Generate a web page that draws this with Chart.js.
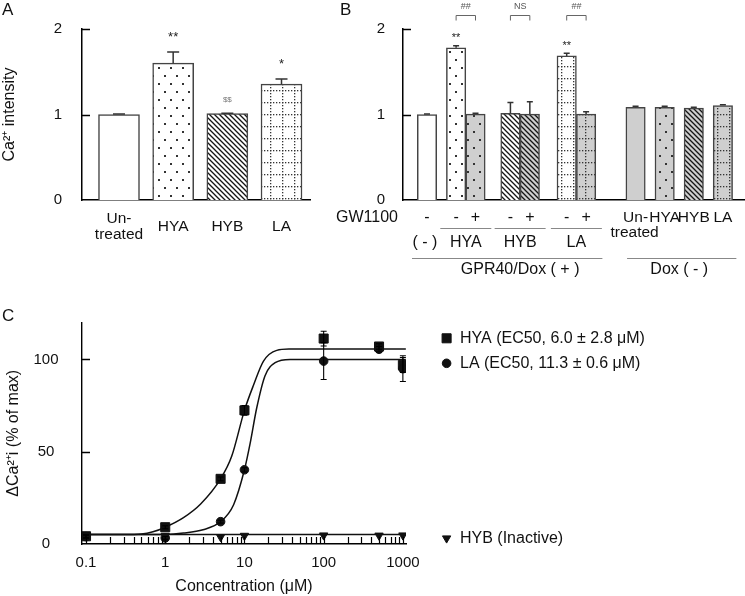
<!DOCTYPE html>
<html>
<head>
<meta charset="utf-8">
<script src="https://cdn.jsdelivr.net/npm/chart.js@4.4.0/dist/chart.umd.min.js"></script>
<style>
  html, body { margin: 0; padding: 0; background: #fff; }
  #fig { position: relative; width: 745px; height: 596px; overflow: hidden; font-family: 'Liberation Sans', Arial, sans-serif; }
  .box { position: absolute; }
  .tag { position: absolute; font-size: 17px; line-height: 1; color: #111; }
</style>
</head>
<body>
<div id="fig">
  <div class="box" style="left:0;top:0;width:315px;height:290px"><canvas id="chartA"></canvas></div>
  <div class="box" style="left:315px;top:0;width:430px;height:290px"><canvas id="chartB"></canvas></div>
  <div class="box" style="left:0;top:290px;width:745px;height:306px"><canvas id="chartC"></canvas></div>
  <div class="tag" style="left:2px;top:1px">A</div>
  <div class="tag" style="left:340px;top:1px">B</div>
  <div class="tag" style="left:2px;top:307px">C</div>
</div>
<script>
// ---- Panel A: Ca2+ intensity
const labelsA = [['Un-', 'treated'], 'HYA', 'HYB', 'LA'];
const valuesA = [1.0, 1.6, 1.01, 1.355];
const errorsA = [0.006, 0.13, 0.006, 0.06];
const marksA = ['', '**', '$$', '*'];
const yTicksA = [0, 1, 2];

// ---- Panel B: GPR40/Dox(+) vs Dox(-)
const gwSignB = ['-', '-', '+', '-', '+', '-', '+'];
const groupLabelsB = ['( - )', 'HYA', 'HYB', 'LA'];
const doxMinusLabelsB = [['Un-', 'treated'], 'HYA', 'HYB', 'LA'];
const valuesB = [1.0, 1.78, 1.005, 1.015, 1.005, 1.685, 1.005, 1.085, 1.085, 1.075, 1.105];
const errorsB = [0.006, 0.025, 0.01, 0.125, 0.145, 0.03, 0.028, 0.012, 0.012, 0.01, 0.01];
const marksB = ['', '**', '', '', '', '**', '', '', '', '', ''];
const pairSigB = ['##', 'NS', '##'];
const yTicksB = [0, 1, 2];

// ---- Panel C: dose response
const concC = [0.1, 1, 5, 10, 100, 500, 1000];
const hyaC = [4.2, 9.1, 35.3, 72.4, 111.3, 107, 97];
const hyaErrC = [0.8, 0.8, 1, 2.6, 4, 1.5, 4];
const laC = [4, 3.3, 12.1, 40.2, 99.1, 105.5, 95];
const laErrC = [0.8, 0.8, 0.8, 1.2, 10, 1.5, 7];
const hybC = [4.5, 4.5, 3.8, 4.5, 4.7, 4.6, 4.7];
const fitHyaX = [0.09, 0.3, 0.5, 0.7, 1, 1.7, 2.8, 5, 6.9, 10, 13, 17.4, 25.6, 37.7, 100, 1090];
const fitHyaY = [5.1, 5.1, 5.4, 6.6, 9.1, 14.3, 21.7, 35.3, 47.5, 72.4, 86, 99.1, 104.9, 105.6, 105.7, 105.7];
const fitLaX = [0.09, 1, 1.7, 3, 5, 7.3, 10, 11.8, 14.3, 18.2, 24.4, 37.7, 100, 1090];
const fitLaY = [5.1, 5.2, 5.9, 7.7, 12.1, 21.3, 40.2, 54.5, 73.8, 91.2, 98.2, 100, 100, 100];
const fitHybX = [0.09, 1090];
const fitHybY = [5.1, 5.1];
const yTicksC = [0, 50, 100];
const xTickLabelsC = ['0.1', '1', '10', '100', '1000'];
const legendC = ['HYA (EC50, 6.0 \u00b1 2.8 \u03bcM)', 'LA (EC50, 11.3 \u00b1 0.6 \u03bcM)', 'HYB (Inactive)'];

Chart.defaults.font.family = "'Liberation Sans', Arial, sans-serif";
Chart.defaults.color = '#111';
Chart.defaults.animation = false;
Chart.defaults.plugins.legend.display = false;
Chart.defaults.plugins.tooltip.enabled = false;

const WHITE = '#ffffff';
const GREY = '#cfcfcf';

function makePattern(kind, base) {
    const c = document.createElement('canvas');
    const g = c.getContext('2d');
    if (kind === 'dots') {
        c.width = 12; c.height = 16;
        g.fillStyle = base; g.fillRect(0, 0, 12, 16);
        g.fillStyle = '#333';
        g.fillRect(2, 3, 2, 2);
        g.fillRect(8, 11, 2, 2);
    } else if (kind === 'hatch') {
        c.width = 5; c.height = 5;
        g.fillStyle = base; g.fillRect(0, 0, 5, 5);
        g.strokeStyle = '#151515'; g.lineWidth = 1.3;
        g.beginPath();
        g.moveTo(-1, -1); g.lineTo(6, 6);
        g.moveTo(-1, 4); g.lineTo(1, 6);
        g.moveTo(4, -1); g.lineTo(6, 1);
        g.stroke();
    } else if (kind === 'grid') {
        c.width = 12; c.height = 12;
        g.fillStyle = base; g.fillRect(0, 0, 12, 12);
        g.fillStyle = '#333';
        for (let k = 0; k < 12; k += 3) {
            g.fillRect(6, k, 1.3, 1.3);
            g.fillRect(k, 6, 1.3, 1.3);
        }
    } else {
        return base;
    }
    return g.createPattern(c, 'repeat');
}

// draws y tick marks pointing into the plot
function innerYTicks(chart, values, len) {
    const { ctx, chartArea } = chart;
    const y = chart.scales.y;
    ctx.save();
    ctx.strokeStyle = '#000';
    ctx.lineWidth = 1.5;
    values.forEach(v => {
        if (v === y.min) return;
        const py = Math.round(y.getPixelForValue(v)) + 0.5;
        ctx.beginPath();
        ctx.moveTo(chartArea.left, py);
        ctx.lineTo(chartArea.left + len, py);
        ctx.stroke();
    });
    ctx.restore();
}

function barErrors(chart, values, errors, cap) {
    const { ctx } = chart;
    const y = chart.scales.y;
    const meta = chart.getDatasetMeta(0);
    ctx.save();
    ctx.strokeStyle = '#333';
    ctx.lineWidth = 1.5;
    meta.data.forEach((bar, i) => {
        const top = y.getPixelForValue(values[i] + errors[i]);
        ctx.beginPath();
        ctx.moveTo(bar.x, bar.y);
        ctx.lineTo(bar.x, top);
        ctx.moveTo(bar.x - cap / 2, top);
        ctx.lineTo(bar.x + cap / 2, top);
        ctx.stroke();
    });
    ctx.restore();
}

function barMarks(chart, values, errors, marks, lift, fontFor) {
    const { ctx } = chart;
    const y = chart.scales.y;
    const meta = chart.getDatasetMeta(0);
    ctx.save();
    ctx.textAlign = 'center';
    ctx.textBaseline = 'alphabetic';
    meta.data.forEach((bar, i) => {
        if (!marks[i]) return;
        const f = fontFor(marks[i]);
        ctx.font = f.font;
        ctx.fillStyle = f.color;
        ctx.fillText(marks[i], bar.x, y.getPixelForValue(values[i] + errors[i]) - lift);
    });
    ctx.restore();
}

// ---------------- Panel A ----------------
const fillA = ['plain', 'dots', 'hatch', 'grid'];

new Chart(document.getElementById('chartA'), {
    type: 'bar',
    data: {
        datasets: [{
            data: valuesA.map((v, i) => ({ x: i, y: v })),
            backgroundColor: fillA.map(k => makePattern(k, WHITE)),
            borderColor: '#444',
            borderWidth: 1.5,
            barThickness: 41
        }]
    },
    options: {
        responsive: true,
        maintainAspectRatio: false,
        layout: { padding: { left: 0, right: 5, top: 29, bottom: 0 } },
        scales: {
            x: {
                type: 'linear',
                offset: false,
                min: -0.683,
                max: 3.526,
                afterBuildTicks: s => { s.ticks = labelsA.map((l, i) => ({ value: i })); },
                afterFit: s => { s.height = 90; },
                grid: { display: false, drawTicks: false },
                border: { display: true, color: '#000', width: 1.5 },
                ticks: {
                    autoSkip: false, maxRotation: 0, padding: 19, crossAlign: 'center',
                    font: { size: 15.5, lineHeight: 1.0 },
                    callback: v => labelsA[v]
                }
            },
            y: {
                min: 0,
                max: 2,
                afterBuildTicks: s => { s.ticks = yTicksA.map(v => ({ value: v })); },
                afterFit: s => { s.width = 82; },
                grid: { display: false, drawTicks: false },
                border: { display: true, color: '#000', width: 1.5 },
                ticks: { padding: 20, font: { size: 15 } },
                title: {
                    display: true,
                    text: 'Ca\u00b2\u207a intensity',
                    font: { size: 16 },
                    padding: { top: 0, bottom: 0 }
                }
            }
        }
    },
    plugins: [{
        id: 'extrasA',
        afterDatasetsDraw(chart) {
            barErrors(chart, valuesA, errorsA, 12);
            barMarks(chart, valuesA, errorsA, marksA, 11, m => m === '$$'
                ? { font: '8px "Liberation Sans", Arial', color: '#777' }
                : { font: '13px "Liberation Sans", Arial', color: '#222' });
            innerYTicks(chart, yTicksA, 8);
        }
    }]
});

// ---------------- Panel B ----------------
// horizontal slot of every bar, in bar widths
const slotB = [0, 1.5, 2.5, 4.3, 5.3, 7.2, 8.2, 10.75, 12.25, 13.75, 15.25];
const fillB = ['plain', 'dots', 'dots', 'hatch', 'hatch', 'grid', 'grid', 'plain', 'dots', 'hatch', 'grid'];
const toneB = [WHITE, WHITE, GREY, WHITE, GREY, WHITE, GREY, GREY, GREY, GREY, GREY];
const pairsB = [[1, 2], [3, 4], [5, 6]];

new Chart(document.getElementById('chartB'), {
    type: 'bar',
    data: {
        datasets: [{
            data: valuesB.map((v, i) => ({ x: slotB[i], y: v })),
            backgroundColor: fillB.map((k, i) => makePattern(k, toneB[i])),
            borderColor: '#444',
            borderWidth: 1.5,
            barThickness: 19.4
        }]
    },
    options: {
        responsive: true,
        maintainAspectRatio: false,
        layout: { padding: { left: 0, right: 0, top: 29, bottom: 0 } },
        scales: {
            x: {
                type: 'linear',
                offset: false,
                min: -1.237,
                max: 16.39,
                afterFit: s => { s.height = 90; },
                grid: { display: false, drawTicks: false },
                border: { display: true, color: '#000', width: 1.5 },
                ticks: { display: false }
            },
            y: {
                min: 0,
                max: 2,
                afterBuildTicks: s => { s.ticks = yTicksB.map(v => ({ value: v })); },
                afterFit: s => { s.width = 88; },
                grid: { display: false, drawTicks: false },
                border: { display: true, color: '#000', width: 1.5 },
                ticks: { padding: 18, font: { size: 15 } }
            }
        }
    },
    plugins: [{
        id: 'extrasB',
        afterDatasetsDraw(chart) {
            const { ctx, chartArea } = chart;
            const bars = chart.getDatasetMeta(0).data;
            const px = i => bars[i].x;
            const mid = p => (px(p[0]) + px(p[1])) / 2;

            barErrors(chart, valuesB, errorsB, 6);
            barMarks(chart, valuesB, errorsB, marksB, 4.3,
                () => ({ font: '11px "Liberation Sans", Arial', color: '#222' }));
            innerYTicks(chart, yTicksB, 8);

            ctx.save();
            // significance brackets
            ctx.strokeStyle = '#666';
            ctx.lineWidth = 1;
            ctx.fillStyle = '#555';
            ctx.font = '9px "Liberation Sans", Arial';
            ctx.textAlign = 'center';
            ctx.textBaseline = 'middle';
            pairsB.forEach((p, k) => {
                ctx.beginPath();
                ctx.moveTo(px(p[0]), 20.5);
                ctx.lineTo(px(p[0]), 15.5);
                ctx.lineTo(px(p[1]), 15.5);
                ctx.lineTo(px(p[1]), 20.5);
                ctx.stroke();
                ctx.fillText(pairSigB[k], mid(p), 7);
            });

            // treatment rows under the axis
            ctx.fillStyle = '#111';
            ctx.font = '16px "Liberation Sans", Arial';
            ctx.textAlign = 'right';
            ctx.fillText('GW1100', chartArea.left - 5, 218);
            ctx.textAlign = 'center';
            gwSignB.forEach((s, i) => ctx.fillText(s, px(i), 218));
            ctx.font = '15.5px "Liberation Sans", Arial';
            doxMinusLabelsB.forEach((l, k) => {
                const lines = Array.isArray(l) ? l : [l];
                lines.forEach((t, j) => ctx.fillText(t, px(7 + k) + (j ? -1 : 0), 218 + j * 15));
            });
            ctx.font = '16px "Liberation Sans", Arial';
            ctx.fillText(groupLabelsB[0], px(0) - 2, 243);
            pairsB.forEach((p, k) => ctx.fillText(groupLabelsB[k + 1], mid(p), 243));
            ctx.fillText('GPR40/Dox ( + )', mid(pairsB[1]), 270);
            ctx.fillText('Dox ( - )', (px(7) + px(10)) / 2, 270);

            ctx.strokeStyle = '#888';
            ctx.lineWidth = 1;
            ctx.beginPath();
            pairsB.forEach(p => {
                ctx.moveTo(mid(p) - 25.5, 228.5);
                ctx.lineTo(mid(p) + 25.5, 228.5);
            });
            ctx.moveTo(px(0) - 15, 258.5);
            ctx.lineTo(mid(pairsB[2]) + 26, 258.5);
            ctx.moveTo(px(7) - 8.5, 258.5);
            ctx.lineTo(px(10) + 13.5, 258.5);
            ctx.stroke();
            ctx.restore();
        }
    }]
});

// ---------------- Panel C ----------------
const minorTicksC = [];
[0.1, 1, 10, 100].forEach(d => { for (let k = 1; k < 10; k++) minorTicksC.push({ value: d * k, major: k === 1 }); });
minorTicksC.push({ value: 1000, major: true });

const pts = (xs, ys) => xs.map((x, i) => ({ x: x, y: ys[i] }));
const fitStyle = { showLine: true, pointRadius: 0, borderColor: '#111', borderWidth: 1.5, cubicInterpolationMode: 'monotone', order: 3 };
const markStyle = { pointBackgroundColor: '#111', pointBorderColor: '#111', pointBorderWidth: 1, order: 1 };

const chartC = new Chart(document.getElementById('chartC'), {
    type: 'scatter',
    data: {
        datasets: [
            Object.assign({ label: 'HYA fit', data: pts(fitHyaX, fitHyaY) }, fitStyle),
            Object.assign({ label: 'LA fit', data: pts(fitLaX, fitLaY) }, fitStyle),
            Object.assign({ label: 'HYB fit', data: pts(fitHybX, fitHybY) }, fitStyle),
            Object.assign({ label: 'HYB', data: pts(concC, hybC), pointStyle: 'triangle', pointRotation: 180, pointRadius: 4.8 }, markStyle),
            Object.assign({ label: 'LA', data: pts(concC, laC), pointStyle: 'circle', pointRadius: 4.3 }, markStyle),
            Object.assign({ label: 'HYA', data: pts(concC, hyaC), pointStyle: 'rect', pointRadius: 6.4 }, markStyle)
        ]
    },
    options: {
        responsive: true,
        maintainAspectRatio: false,
        layout: { padding: { left: 0, right: 339, top: 25.5, bottom: 0 } },
        scales: {
            x: {
                type: 'logarithmic',
                min: 0.089,
                max: 1095,
                afterBuildTicks: s => { s.ticks = minorTicksC.map(t => ({ value: t.value, major: t.major })); },
                afterFit: s => { s.height = 52; },
                grid: { display: false, drawTicks: false },
                border: { display: true, color: '#000', width: 1.4 },
                ticks: {
                    autoSkip: false, maxRotation: 0, padding: 10, font: { size: 15 },
                    callback: (v, i) => {
                        const k = [0, 9, 18, 27, 36].indexOf(i);
                        return k >= 0 ? xTickLabelsC[k] : '';
                    }
                },
                title: {
                    display: true,
                    text: 'Concentration (\u03bcM)',
                    font: { size: 16 },
                    padding: { top: 0, bottom: 0 }
                }
            },
            y: {
                min: 0,
                max: 120,
                afterBuildTicks: s => { s.ticks = yTicksC.map(v => ({ value: v })); },
                afterFit: s => { s.width = 82; },
                grid: { display: false, drawTicks: false },
                border: { display: true, color: '#000', width: 1.4 },
                ticks: { padding: 23.5, crossAlign: 'center', font: { size: 15 } },
                title: {
                    display: true,
                    text: '\u0394Ca\u00b2\u207ai (% of max)',
                    font: { size: 16 },
                    padding: { top: 3.5, bottom: 0 }
                }
            }
        }
    },
    plugins: [{
        id: 'extrasC',
        afterDatasetsDraw(chart) {
            const { ctx, chartArea } = chart;
            const x = chart.scales.x;
            const y = chart.scales.y;
            ctx.save();
            // minor ticks of the log axis, pointing up
            ctx.strokeStyle = '#000';
            ctx.lineWidth = 1.2;
            ctx.beginPath();
            x.ticks.forEach(t => {
                const p = Math.round(x.getPixelForValue(t.value)) + 0.5;
                ctx.moveTo(p, chartArea.bottom);
                ctx.lineTo(p, chartArea.bottom - 7);
            });
            ctx.stroke();
            // error bars
            ctx.lineWidth = 1.1;
            [[hyaC, hyaErrC], [laC, laErrC]].forEach(([vals, errs]) => {
                ctx.beginPath();
                concC.forEach((c, i) => {
                    const px = x.getPixelForValue(c);
                    const top = y.getPixelForValue(vals[i] + errs[i]);
                    const bot = y.getPixelForValue(vals[i] - errs[i]);
                    ctx.moveTo(px, top); ctx.lineTo(px, bot);
                    ctx.moveTo(px - 3, top); ctx.lineTo(px + 3, top);
                    ctx.moveTo(px - 3, bot); ctx.lineTo(px + 3, bot);
                });
                ctx.stroke();
            });
            ctx.restore();
            innerYTicks(chart, yTicksC, 8);

            // legend beside the plot
            const rows = [
                { ds: 5, y: 48.3 },
                { ds: 4, y: 73.3 },
                { ds: 3, y: 248.3 }
            ];
            ctx.save();
            ctx.fillStyle = '#111';
            ctx.strokeStyle = '#111';
            ctx.font = '16px "Liberation Sans", Arial';
            ctx.textAlign = 'left';
            ctx.textBaseline = 'middle';
            rows.forEach((r, k) => {
                const d = chart.data.datasets[r.ds];
                Chart.helpers.drawPoint(ctx, {
                    pointStyle: d.pointStyle,
                    radius: d.pointRadius,
                    rotation: d.pointRotation || 0,
                    borderWidth: 1
                }, 446.6, r.y);
                ctx.fillText(legendC[k], 460, r.y);
            });
            ctx.restore();
        }
    }]
});
</script>
</body>
</html>
